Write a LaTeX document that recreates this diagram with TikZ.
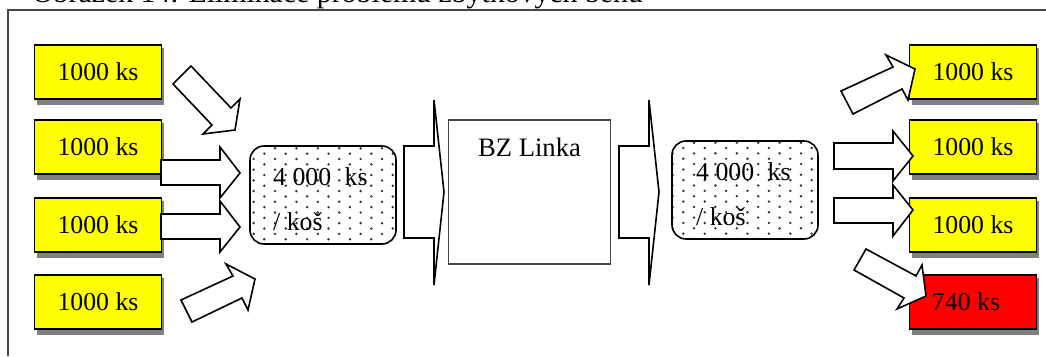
\documentclass[tikz,border=0pt]{standalone}
\usepackage{fontspec}
\setmainfont{Liberation Serif}
\definecolor{framegray}{RGB}{70,70,70}
\definecolor{shadowgray}{RGB}{128,128,128}
\definecolor{padyellow}{RGB}{255,255,0}
\definecolor{padred}{RGB}{255,0,0}
\definecolor{dotgray}{RGB}{50,50,50}
\tikzset{
  x=1pt,y=-1pt,
  framestyle/.style={draw=framegray,line width=1.3pt},
  pad/.style={draw=black,line width=1.6pt,minimum width=127pt,minimum height=54pt,inner sep=0pt,font=\fontsize{25.8pt}{30pt}\selectfont,text=black},
  yellowpad/.style={pad,fill=padyellow},
  redpad/.style={pad,fill=padred},
  padshadow/.style={fill=shadowgray},
  arrowshape/.style={draw=black,fill=white,line width=1.6pt,line join=miter},
  basket/.style={draw=black,line width=1.6pt,rounded corners=14pt},
  lbl/.style={font=\fontsize{25.8pt}{30pt}\selectfont,inner sep=0pt,text=black},
}
\newcommand{\padbox}[5]{%
  \fill[padshadow] (#2-63.5+2.5,#3-27+3) rectangle (#2+65.5,#3+32.5);
  \node[#5] (#1) at (#2,#3) {#4};
}
% x of first dot in even rows, y of first row
\newcommand{\dotgrid}[2]{%
  \foreach \r in {0,...,19}{%
    \foreach \c in {-2,...,7}{%
      \pgfmathsetmacro{\dx}{#1+21.4*\c-10.7*mod(\r,2)}%
      \pgfmathsetmacro{\dy}{#2+5.35*\r}%
      \fill[dotgray] (\dx,\dy) circle[radius=1.35pt];
    }%
  }%
}
\begin{document}
\begin{tikzpicture}
\useasboundingbox (0,0) rectangle (1046,356);
\begin{scope}
\clip (0,0) rectangle (1046,356);
\node[anchor=base west,lbl,font=\fontsize{29.8pt}{32pt}\selectfont] (caption) at (32,2.5) {Obrázek 14: Eliminace problému zbytkových běhů};
\end{scope}
\draw[framestyle] (8,356) -- (8,10) -- (1046,10);
% left pads
\padbox{a1}{98}{72}{1000 ks}{yellowpad}
\padbox{a2}{98}{147}{1000 ks}{yellowpad}
\padbox{a3}{98}{225}{1000 ks}{yellowpad}
\padbox{a4}{98}{302}{1000 ks}{yellowpad}
% right pads
\padbox{b1}{973}{72}{1000 ks}{yellowpad}
\padbox{b2}{973}{147}{1000 ks}{yellowpad}
\padbox{b3}{973}{225}{1000 ks}{yellowpad}
\padbox{b4}{973}{302}{}{redpad}
% baskets
\begin{scope}
\clip[rounded corners=14pt] (250,146) rectangle (396,244);
\dotgrid{275}{148.3}
\end{scope}
\draw[basket] (250,146) rectangle (396,244);
\begin{scope}
\clip[rounded corners=14pt] (672,141) rectangle (818,239);
\dotgrid{694}{142.7}
\end{scope}
\draw[basket] (672,141) rectangle (818,239);
\node[lbl,anchor=base west] (k1a) at (273,185) {4 000\hspace{7pt} ks};
\node[lbl,anchor=base west] (k1b) at (273,230) {/ koš};
\node[lbl,anchor=base west] (k2a) at (696,180) {4 000\hspace{7pt} ks};
\node[lbl,anchor=base west] (k2b) at (696,225) {/ koš};
% line
\node[draw=framegray,line width=1.6pt,fill=white,minimum width=162pt,minimum height=144pt,inner sep=0pt] (line) at (529.5,192) {};
\node[lbl,anchor=base,font=\fontsize{26.6pt}{30pt}\selectfont] (linetxt) at (529.5,156) {BZ Linka};
% arrows
\draw[arrowshape] (173,84) -- (191,66) -- (231,108) -- (240,99) -- (235,130) -- (203,134) -- (212,125) -- cycle;
\draw[arrowshape] (161,160) -- (220,160) -- (220,147) -- (240,173) -- (220,198) -- (220,185) -- (161,185) -- cycle;
\draw[arrowshape] (161,214) -- (220,214) -- (220,201) -- (240,227) -- (220,252) -- (220,239) -- (161,239) -- cycle;
\draw[arrowshape] (181,300) -- (233,276) -- (226,264) -- (255,279) -- (248,310) -- (242,298) -- (192,322) -- cycle;
\draw[arrowshape] (404,146) -- (434,146) -- (434,100) -- (444,192) -- (434,285) -- (434,238) -- (404,238) -- cycle;
\draw[arrowshape] (619,146) -- (649,146) -- (649,100) -- (659,192) -- (649,285) -- (649,238) -- (619,238) -- cycle;
\draw[arrowshape] (841,91) -- (893,67) -- (886,55) -- (915,69) -- (908,100) -- (902,89) -- (853,114) -- cycle;
\draw[arrowshape] (834,143) -- (893,143) -- (893,131) -- (913,156) -- (893,181) -- (893,169) -- (834,169) -- cycle;
\draw[arrowshape] (834,198) -- (893,198) -- (893,185) -- (913,210) -- (893,236) -- (893,223) -- (834,223) -- cycle;
\draw[arrowshape] (854,270) -- (866,249) -- (916,276) -- (922,265) -- (926,296) -- (897,309) -- (904,298) -- cycle;
\node[lbl] (b4t) at (966,302) {740 ks};
\end{tikzpicture}
\end{document}
